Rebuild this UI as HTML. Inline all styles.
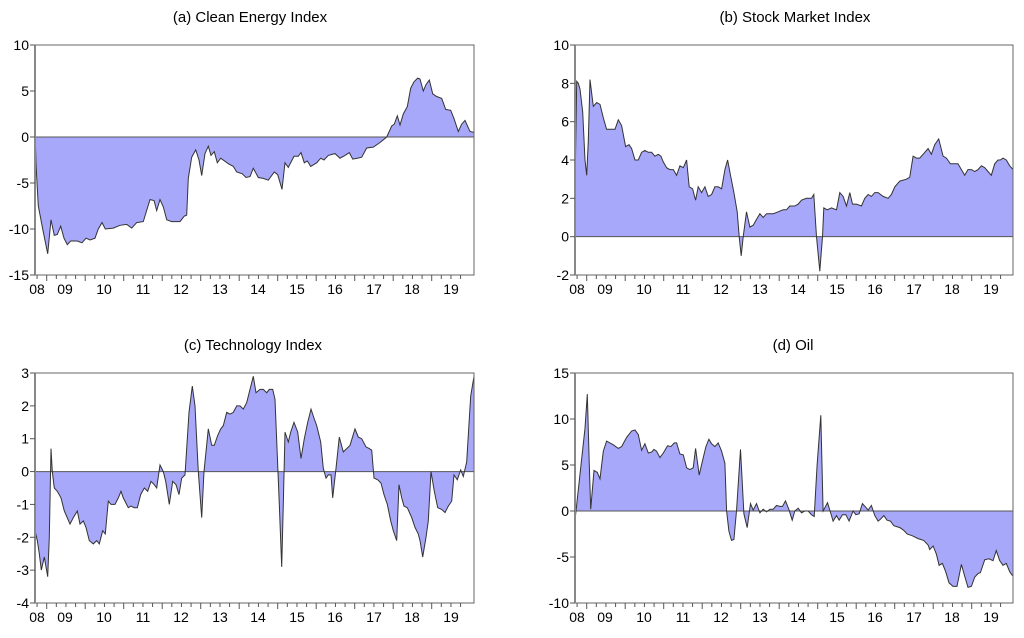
<!DOCTYPE html>
<html><head><meta charset="utf-8"><style>
body{margin:0;background:#fff;}
svg text{font-family:"Liberation Sans",Arial,sans-serif;fill:#000;}
</style></head><body>
<svg id="s" width="1024" height="633" xmlns="http://www.w3.org/2000/svg"></svg>
<script>
const P=[
{t:"(a) Clean Energy Index",L:35,R:474,T:45,B:275,ymax:10,ymin:-15,step:5,z0:105,z1:1422,tx:250,ty:22,
d:[105,1,108,-3,115,-7.5,128,-10,143,-12.7,153,-9,163,-10.7,172,-10.6,182,-9.7,192,-11,202,-11.7,212,-11.3,232,-11.3,246,-11.5,258,-11,270,-11.2,285,-11,295,-10,306,-9.3,316,-10,340,-9.9,360,-9.6,380,-9.5,395,-9.9,410,-9.3,430,-9.2,450,-6.8,462,-6.9,470,-8,480,-6.8,490,-7.6,500,-9,515,-9.2,540,-9.2,553,-8.6,560,-8.5,565,-4.5,575,-2.2,587,-1.4,597,-2.5,605,-4.2,615,-1.8,625,-1,633,-2,643,-1.6,652,-2.8,662,-2.3,685,-2.9,700,-3.2,710,-3.8,727,-4,738,-4.4,750,-4.3,760,-3.4,775,-4.4,790,-4.5,805,-4.7,823,-3.8,833,-4.1,846,-5.7,855,-2.8,865,-3.3,882,-2.1,895,-2.1,903,-1.7,913,-2.8,922,-2.6,932,-3.2,950,-2.8,962,-2.3,972,-2.5,985,-2,1005,-1.8,1020,-2.3,1035,-2,1048,-1.7,1058,-2.4,1072,-2.3,1085,-2.2,1100,-1.2,1120,-1.1,1140,-0.6,1160,0,1175,1.2,1183,1.4,1192,2.3,1200,1.3,1210,2.5,1222,3.3,1232,5.3,1242,6,1253,6.4,1260,6.3,1270,5,1278,5.7,1288,6.2,1298,4.7,1310,4.4,1325,4.2,1337,3,1352,2.9,1362,2,1375,0.6,1385,1.4,1395,1.8,1410,0.6,1422,0.5]},
{t:"(b) Stock Market Index",L:575,R:1013,T:45,B:275,ymax:10,ymin:-2,step:2,z0:135,z1:1450,tx:795,ty:22,
d:[135,2.5,140,8.1,145,8,150,7.7,158,6.5,165,4,170,3.2,175,5,180,8.2,190,6.8,200,7,210,6.9,220,6.2,230,5.6,240,5.6,255,5.6,265,6.1,275,5.8,287,4.7,297,4.8,305,4.6,315,4.0,325,4.0,335,4.4,345,4.5,355,4.4,365,4.4,375,4.2,385,4.3,393,4.2,400,3.9,410,3.6,420,3.5,430,3.5,440,3.2,450,3.7,460,3.6,470,4.0,478,2.6,488,2.5,497,1.9,505,2.6,515,2.3,525,2.6,535,2.1,545,2.2,555,2.6,565,2.6,575,2.5,585,3.5,593,4.0,603,3.1,612,2.3,622,1.3,628,0,634,-1.0,640,0,650,1.3,660,0.5,670,0.6,680,0.9,690,1.2,700,1.0,710,1.2,730,1.2,745,1.3,760,1.4,770,1.4,780,1.6,795,1.6,805,1.7,815,1.9,830,2.0,840,2.0,845,2.0,852,2.2,860,0,870,-1.8,878,0,882,1.5,892,1.4,905,1.5,920,1.4,930,2.3,940,2.1,950,1.6,960,2.3,968,1.7,980,1.7,995,1.6,1005,2.0,1015,2.2,1025,2.1,1035,2.3,1045,2.3,1060,2.1,1075,2.0,1085,2.2,1095,2.6,1110,2.9,1130,3.0,1140,3.1,1150,4.2,1160,4.1,1170,4.1,1180,4.3,1195,4.6,1205,4.3,1215,4.8,1227,5.1,1240,4.2,1250,4.1,1262,3.8,1275,3.8,1285,3.8,1295,3.5,1305,3.2,1315,3.5,1325,3.5,1335,3.4,1345,3.5,1355,3.7,1365,3.6,1375,3.4,1385,3.2,1395,3.8,1405,4.0,1412,4.0,1420,4.1,1430,4.0,1440,3.7,1450,3.5]},
{t:"(c) Technology Index",L:35,R:474,T:373,B:603,ymax:3,ymin:-4,step:1,z0:105,z1:1422,tx:253,ty:350,
d:[105,-1.8,112,-2.1,118,-2.5,124,-3.0,133,-2.6,143,-3.2,148,-2,153,0.7,157,0,163,-0.5,172,-0.6,183,-0.8,193,-1.2,210,-1.6,220,-1.4,232,-1.2,240,-1.6,250,-1.5,258,-1.7,268,-2.1,280,-2.2,290,-2.1,298,-2.2,308,-1.8,316,-1.9,325,-0.9,333,-1.0,345,-1.0,355,-0.8,363,-0.6,370,-0.8,385,-1.1,393,-1.05,403,-1.1,412,-1.1,422,-0.7,433,-0.5,443,-0.6,453,-0.3,463,-0.4,470,-0.5,480,0.2,490,0.0,497,-0.3,508,-1.0,518,-0.3,528,-0.4,537,-0.7,545,-0.2,555,-0.1,567,1.8,577,2.6,585,2.0,595,0,605,-1.4,612,0,625,1.3,635,0.8,643,0.8,653,1.1,662,1.3,670,1.4,680,1.8,690,1.75,700,1.8,710,2.0,720,2.0,730,1.9,740,2.1,750,2.5,760,2.9,768,2.4,780,2.5,790,2.5,800,2.4,808,2.5,818,2.5,825,2.2,832,0.5,838,-1,845,-2.9,850,-1,855,1.2,865,0.9,872,1.2,882,1.5,893,1.2,903,0.4,913,1.0,923,1.5,933,1.9,943,1.6,950,1.4,962,0.9,970,0.1,978,-0.2,985,-0.1,993,-0.1,998,-0.8,1008,0.1,1018,1.05,1030,0.6,1040,0.7,1050,0.8,1065,1.3,1075,1.05,1085,1.0,1098,0.75,1108,0.7,1115,0.65,1122,-0.2,1133,-0.25,1143,-0.35,1152,-0.7,1162,-1.0,1172,-1.5,1180,-1.8,1190,-2.1,1197,-0.4,1205,-0.8,1212,-1.05,1222,-1.1,1235,-1.4,1245,-1.7,1255,-1.9,1260,-2.1,1268,-2.6,1278,-2.0,1285,-1.5,1293,0,1303,-0.6,1313,-1.1,1325,-1.15,1335,-1.25,1345,-1.05,1355,-0.9,1362,-0.1,1372,-0.25,1382,0.05,1390,-0.15,1400,0.3,1412,2.3,1422,2.9]},
{t:"(d) Oil",L:575,R:1013,T:373,B:603,ymax:15,ymin:-10,step:5,z0:135,z1:1450,tx:793,ty:350,
d:[135,-1,150,4,165,9,172,12.7,178,5,182,0.2,192,4.4,202,4.2,210,3.5,220,6.5,230,7.6,250,7.2,265,6.8,275,7,290,8,305,8.7,315,8.8,325,8.3,335,6.6,345,7.3,355,6.3,365,6.4,372,6.7,380,6.5,390,5.8,400,6.3,413,7.1,423,7,433,7.4,440,7.4,450,6.2,460,6.1,470,4.7,480,4.5,490,4.7,497,6.8,508,3.9,518,5.5,528,7,537,7.8,545,7.3,555,7,565,7.4,575,6.5,585,5.2,590,0,597,-2.2,605,-3.2,612,-3.1,620,0,632,6.7,642,-0.3,652,-1.8,662,0.8,670,0.1,680,0.8,690,-0.2,700,0.2,710,-0.1,720,0.2,730,0.2,740,0.6,750,0.5,758,0.5,767,1.1,777,0.2,787,-1,795,0,805,0.3,815,-0.2,825,0,835,0,845,-0.4,853,-0.6,862,5,873,10.4,880,0,893,0.9,905,-0.5,910,-1.1,920,-0.5,928,-1,938,-0.4,948,-0.4,958,-1.1,970,0,978,-0.4,988,-0.3,998,0.8,1008,0.4,1015,0.1,1025,0.6,1035,-0.5,1045,-1.1,1052,-0.9,1062,-0.5,1072,-1,1082,-1.1,1092,-1.6,1110,-1.8,1122,-2.1,1132,-2.5,1148,-2.7,1165,-3,1182,-3.2,1195,-3.7,1200,-4.2,1210,-3.8,1220,-4.7,1228,-5.9,1238,-5.7,1248,-6.6,1258,-7.8,1270,-8.2,1282,-8.2,1295,-5.8,1305,-7.1,1315,-8.3,1325,-8.2,1335,-7.2,1345,-6.8,1352,-6.7,1365,-5.3,1378,-5.2,1390,-5.4,1400,-4.3,1410,-5.4,1420,-5.9,1430,-5.7,1440,-6.6,1448,-7,1450,-7]}
];
const labs=[37,65,104,143,181,220,258,297,335,374,412,451];
let h="";
for(const p of P){
 const W=p.R-p.L, sx=z=>p.L+(z-p.z0)/(p.z1-p.z0)*W, sy=v=>p.T+(p.ymax-v)/(p.ymax-p.ymin)*(p.B-p.T);
 const y0=sy(0); let pts=[];
 for(let i=0;i<p.d.length;i+=2)pts.push(sx(p.d[i]).toFixed(1)+","+sy(p.d[i+1]).toFixed(1));
 const last=pts[pts.length-1].split(","), first=pts[0].split(",");
 h+=`<path d="M${first[0]},${y0} L${pts.join(" L")} L${last[0]},${y0} Z" fill="#a8a8fa" stroke="none"/>`;
 h+=`<line x1="${p.L}" y1="${y0}" x2="${p.R}" y2="${y0}" stroke="#555" stroke-width="1"/>`;
 h+=`<polyline points="${pts.join(" ")}" fill="none" stroke="#333" stroke-width="1"/>`;
 h+=`<rect x="${p.L}" y="${p.T}" width="${W}" height="${p.B-p.T}" fill="none" stroke="#666" stroke-width="1"/>`;
 h+=`<line x1="${p.L}" y1="${p.T}" x2="${p.L}" y2="${p.B}" stroke="#888" stroke-width="2"/>`;
 for(let v=p.ymin;v<=p.ymax;v+=p.step){const y=sy(v);
  h+=`<line x1="${p.L-5}" y1="${y}" x2="${p.L}" y2="${y}" stroke="#555"/>`;
  h+=`<text x="${p.L-6}" y="${y+5}" font-size="14" text-anchor="end">${v}</text>`;}
 const off=p.L-35;
 for(let k=0;k<48;k++){const x=off+46.7+(k-4)*9.625; if(x<p.L||x>p.R)continue;
  const maj=(k%4==0); h+=`<line x1="${x}" y1="${p.B}" x2="${x}" y2="${p.B+(maj?6:4)}" stroke="#555"/>`;}
 const yrs=["08","09","10","11","12","13","14","15","16","17","18","19"];
 yrs.forEach((y,i)=>{h+=`<text x="${labs[i]+off}" y="${p.B+19}" font-size="14" text-anchor="middle">${y}</text>`;});
 h+=`<text x="${p.tx}" y="${p.ty}" font-size="15" text-anchor="middle">${p.t}</text>`;
}
document.getElementById("s").innerHTML=h;
</script>
</body></html>
